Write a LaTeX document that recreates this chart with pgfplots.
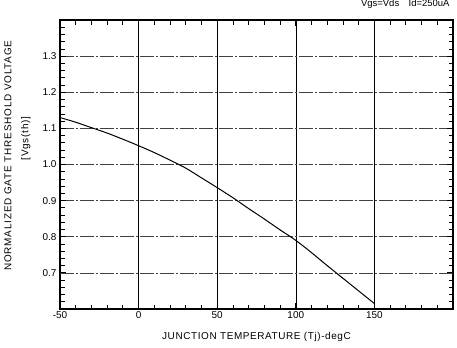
\documentclass[border=0pt]{standalone}
\usepackage{pgfplots}
\pgfplotsset{compat=1.18}
\usepackage{fontspec}
\setmainfont{Liberation Sans}
\begin{document}
\begin{tikzpicture}[x=1bp,y=1bp]
\useasboundingbox (0,0) rectangle (457,347);
\begin{axis}[
  at={(60bp,38bp)}, anchor=south west,
  scale only axis, width=393bp, height=289bp,
  xmin=-50, xmax=200, ymin=0.6, ymax=1.4,
  xtick={-50,0,50,100,150,200}, xticklabels={-50,0,50,100,150,},
  ytick={0.6,0.7,0.8,0.9,1.0,1.1,1.2,1.3,1.4},
  yticklabels={,0.7,0.8,0.9,1.0,1.1,1.2,1.3,},
  minor xtick={-40,-30,-20,-10,10,20,30,40,60,70,80,90,110,120,130,140,160,170,180,190},
  minor ytick={0.62,0.64,0.66,0.68,0.72,0.74,0.76,0.78,0.82,0.84,0.86,0.88,0.92,0.94,0.96,0.98,1.02,1.04,1.06,1.08,1.12,1.14,1.16,1.18,1.22,1.24,1.26,1.28,1.32,1.34,1.36,1.38},
  tick align=inside, major tick length=6bp, minor tick length=4.5bp,
  every tick/.style={black, line width=0.8pt},
  /pgf/number format/assume math mode=true,
  tick label style={font=\fontsize{10}{12}\selectfont},
  xticklabel style={yshift=1bp},
  extra y ticks={0.7,0.8,0.9,1.0,1.1,1.2,1.3},
  extra y tick labels={},
  extra y tick style={grid=major, major grid style={black!75, line width=0.6pt, dash pattern=on 14pt off 2pt on 2pt off 2pt}},
  extra x ticks={0,50,100,150},
  extra x tick labels={},
  extra x tick style={grid=major, major grid style={black, line width=0.6pt}},
  axis line style={line width=2pt},
  xlabel={JUNCTION TEMPERATURE (Tj)-degC},
  xlabel style={font=\fontsize{10}{12}\selectfont\addfontfeature{LetterSpace=6}, at={(axis description cs:0.5,0)}, anchor=center, yshift=-28bp},
  ylabel style={font=\fontsize{10}{17}\selectfont\addfontfeature{LetterSpace=8}, align=center, at={(axis description cs:0,0.531)}, anchor=south, yshift=26bp},
  ylabel={NORMALIZED GATE THRESHOLD VOLTAGE\\{}\hspace*{34bp}{[Vgs(th)]}},
  title={Vgs=Vds\quad Id=250uA},
  title style={font=\fontsize{9.5}{11}\selectfont, at={(axis description cs:1,1)}, anchor=south east, yshift=2bp},
]
\addplot[black, line width=1pt, smooth] coordinates {
(-50,1.130) (-40,1.117) (-30,1.102) (-20,1.087) (-10,1.070) (0,1.052)
(10,1.033) (20,1.012) (30,0.990) (40,0.963) (50,0.936) (60,0.908)
(70,0.878) (80,0.849) (90,0.819) (100,0.790) (110,0.756) (120,0.720)
(130,0.685) (140,0.650) (150,0.615)
};
\end{axis}
\end{tikzpicture}
\end{document}
